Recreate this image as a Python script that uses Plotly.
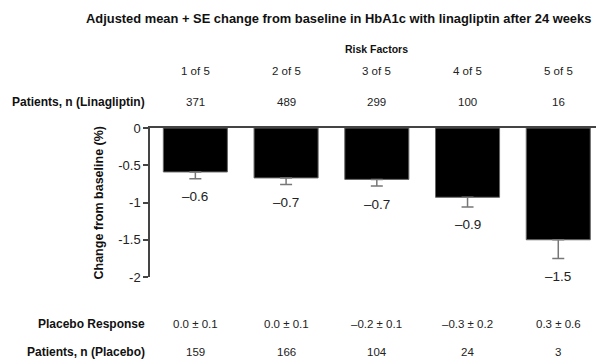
import plotly.graph_objects as go

categories = ["1 of 5", "2 of 5", "3 of 5", "4 of 5", "5 of 5"]
change = [-0.59, -0.67, -0.69, -0.93, -1.50]
se = [0.09, 0.09, 0.09, 0.13, 0.25]
value_labels = ["–0.6", "–0.7", "–0.7", "–0.9", "–1.5"]
n_lina = ["371", "489", "299", "100", "16"]
placebo_resp = ["0.0 ± 0.1", "0.0 ± 0.1", "–0.2 ± 0.1", "–0.3 ± 0.2", "0.3 ± 0.6"]
n_placebo = ["159", "166", "104", "24", "3"]
y_ticks = [0, -0.5, -1, -1.5, -2]

FONT = "Liberation Sans, Arial, sans-serif"
xs = list(range(len(categories)))

fig = go.Figure()
fig.add_trace(go.Bar(
    x=xs, y=change, width=0.706,
    marker=dict(color="#000000", line=dict(color="#666666", width=1)),
    error_y=dict(type="data", symmetric=False, array=[0]*len(se), arrayminus=se,
                 color="#777777", thickness=1.5, width=6),
    showlegend=False, hoverinfo="skip",
))

ann = []
# value labels under error bars
for i, (v, e, t) in enumerate(zip(change, se, value_labels)):
    ann.append(dict(x=i, y=v - e, xref="x", yref="y", text=t, showarrow=False,
                    yanchor="middle", yshift=-18, font=dict(size=13.5, color="#222")))

def row(texts, ypaper, size=11.5):
    for i, t in enumerate(texts):
        ann.append(dict(x=i, y=ypaper, xref="x", yref="paper", text=t, showarrow=False,
                        xanchor="center", yanchor="middle", font=dict(size=size, color="#222")))

row(categories, 1.385)
row(n_lina, 1.177)
row(placebo_resp, -0.314)
row(n_placebo, -0.502)

def rowlabel(text, ypaper):
    ann.append(dict(x=-0.006, y=ypaper, xref="paper", yref="paper", text="<b>%s</b>" % text,
                    showarrow=False, xanchor="right", yanchor="middle",
                    font=dict(size=12, color="#111")))

rowlabel("Patients, n (Linagliptin)", 1.177)
rowlabel("Placebo Response", -0.314)
rowlabel("Patients, n (Placebo)", -0.502)

ann.append(dict(x=2, y=1.532, xref="x", yref="paper", text="<b>Risk Factors</b>",
                showarrow=False, xanchor="center", yanchor="middle",
                font=dict(size=10.5, color="#111")))
ann.append(dict(x=(84 - 150) / 450, y=1.732, xref="paper", yref="paper",
                text="<b>Adjusted mean + SE change from baseline in HbA1c with linagliptin after 24 weeks</b>",
                showarrow=False, xanchor="left", yanchor="middle",
                font=dict(size=12.9, color="#111")))
ann.append(dict(x=(98 - 150) / 450, y=0.5, xref="paper", yref="paper",
                text="<b>Change from baseline (%)</b>", textangle=-90,
                showarrow=False, xanchor="center", yanchor="middle",
                font=dict(size=12.5, color="#111")))

# the page body has an 8px margin, so the figure is sized/offset to compensate
fig.update_layout(
    width=596, height=356,
    margin=dict(l=142, r=4, t=119.5, b=87),
    paper_bgcolor="white", plot_bgcolor="white",
    font=dict(family=FONT, color="#222"),
    annotations=ann,
    xaxis=dict(range=[-0.5, 4.46], side="top", showline=True, linecolor="#444", linewidth=1.5,
               showticklabels=False, ticks="", showgrid=False, zeroline=False, fixedrange=True),
    yaxis=dict(range=[-2, 0], tickvals=y_ticks, ticktext=["0", "-0.5", "-1", "-1.5", "-2"],
               showline=True, linecolor="#444", linewidth=1.5, ticks="outside", ticklen=5,
               tickcolor="#444", tickwidth=1.5, showgrid=False, zeroline=False,
               tickfont=dict(size=13, color="#222"), fixedrange=True),
)

fig.write_html("out.html")
